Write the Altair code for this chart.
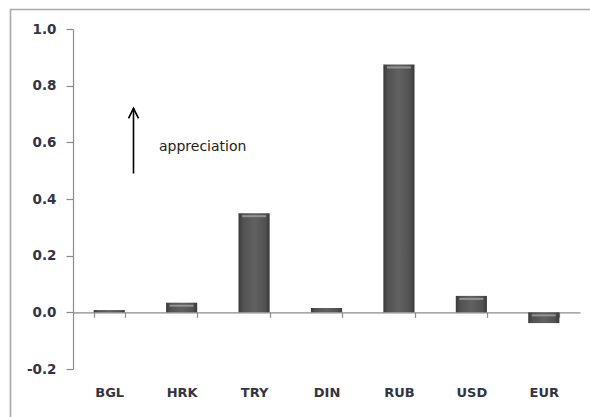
import altair as alt
import pandas as pd

# Data
currencies = ["BGL", "HRK", "TRY", "DIN", "RUB", "USD", "EUR"]
values = [0.008, 0.034, 0.35, 0.015, 0.875, 0.058, -0.038]
y_ticks = [-0.2, 0.0, 0.2, 0.4, 0.6, 0.8, 1.0]

# Annotation (arrow + label), y in data units
arrow_from = [0.49]
arrow_to = [0.72]
note_text = ["appreciation"]
note_y = [0.585]

df = pd.DataFrame({"currency": currencies, "value": values})
ann = pd.DataFrame({"y0": arrow_from, "y1": arrow_to, "text": note_text, "ty": note_y})

W, H = 507, 340
YMIN, YMAX = -0.2, 1.0
zero_offset = -(0 - YMIN) / (YMAX - YMIN) * H

font = "DejaVu Sans"

yscale = alt.Scale(domain=[YMIN, YMAX], nice=False, zero=False)
xscale = alt.Scale(paddingInner=0.57, paddingOuter=0.285)

grad = alt.Gradient(
    gradient="linear",
    x1=0, x2=1, y1=0, y2=0,
    stops=[
        alt.GradientStop(color="#3a3a3a", offset=0),
        alt.GradientStop(color="#525252", offset=0.15),
        alt.GradientStop(color="#616161", offset=0.5),
        alt.GradientStop(color="#525252", offset=0.85),
        alt.GradientStop(color="#3a3a3a", offset=1),
    ],
)

bars = alt.Chart(df).mark_bar(color=grad).encode(
    x=alt.X(
        "currency:N",
        sort=currencies,
        scale=xscale,
        axis=alt.Axis(
            title=None,
            orient="bottom",
            offset=zero_offset,
            labelAngle=0,
            domainColor="#8c8c8c",
            domainWidth=1.2,
            tickColor="#8c8c8c",
            tickSize=5,
            tickWidth=1.2,
            tickBand="extent",
            labelPadding=69,
            labelFont=font,
            labelFontSize=13,
            labelFontWeight="bold",
            labelColor="#333344",
        ),
    ),
    y=alt.Y(
        "value:Q",
        scale=yscale,
        axis=alt.Axis(
            title=None,
            values=y_ticks,
            grid=False,
            labelExpr="datum.value < 0 ? '-' + format(-datum.value, '.1f') : format(datum.value, '.1f')",
            domainColor="#8c8c8c",
            domainWidth=1.2,
            tickColor="#8c8c8c",
            tickSize=7,
            tickWidth=1.2,
            labelPadding=10,
            labelFont=font,
            labelFontSize=13.5,
            labelFontWeight="bold",
            labelColor="#333344",
        ),
    ),
)

highlight = alt.Chart(df).transform_filter(
    "abs(datum.value) > 0.02"
).transform_calculate(
    top="max(datum.value, 0)"
).mark_tick(color="#9a9a9a", size=24, thickness=2, yOffset=3, opacity=0.9).encode(
    x=alt.X("currency:N", sort=currencies, scale=xscale),
    y=alt.Y("top:Q", scale=yscale),
)

frame = alt.Chart(pd.DataFrame({"k": [0]})).mark_rect(
    fill="transparent", stroke="#ababab", strokeWidth=1.6
).encode(
    x=alt.value(-62.5), x2=alt.value(W + 80),
    y=alt.value(-19.5), y2=alt.value(H + 120),
)

arrow_line = alt.Chart(ann).mark_rule(color="black", strokeWidth=1.6).encode(
    x=alt.value(60.5),
    y=alt.Y("y0:Q", scale=yscale),
    y2="y1:Q",
)

arrow_head = alt.Chart(ann).mark_point(
    shape="M-0.5,1L0,0L0.5,1", filled=False, color="black", strokeWidth=1.6,
    size=400, opacity=1,
).encode(
    x=alt.value(60.5),
    y=alt.Y("y1:Q", scale=yscale),
)

note = alt.Chart(ann).mark_text(
    align="left", baseline="middle", font=font, fontSize=14, color="#222"
).encode(
    x=alt.value(86),
    y=alt.Y("ty:Q", scale=yscale),
    text="text:N",
)

chart = alt.layer(frame, bars, highlight, arrow_line, arrow_head, note).properties(
    width=W,
    height=H,
    autosize=alt.AutoSizeParams(type="none"),
    padding={"left": 73, "top": 29, "right": 10, "bottom": 48},
    background="white",
).configure_view(stroke=None)

chart.save("out.html", embed_options={"renderer": "svg", "actions": False})
